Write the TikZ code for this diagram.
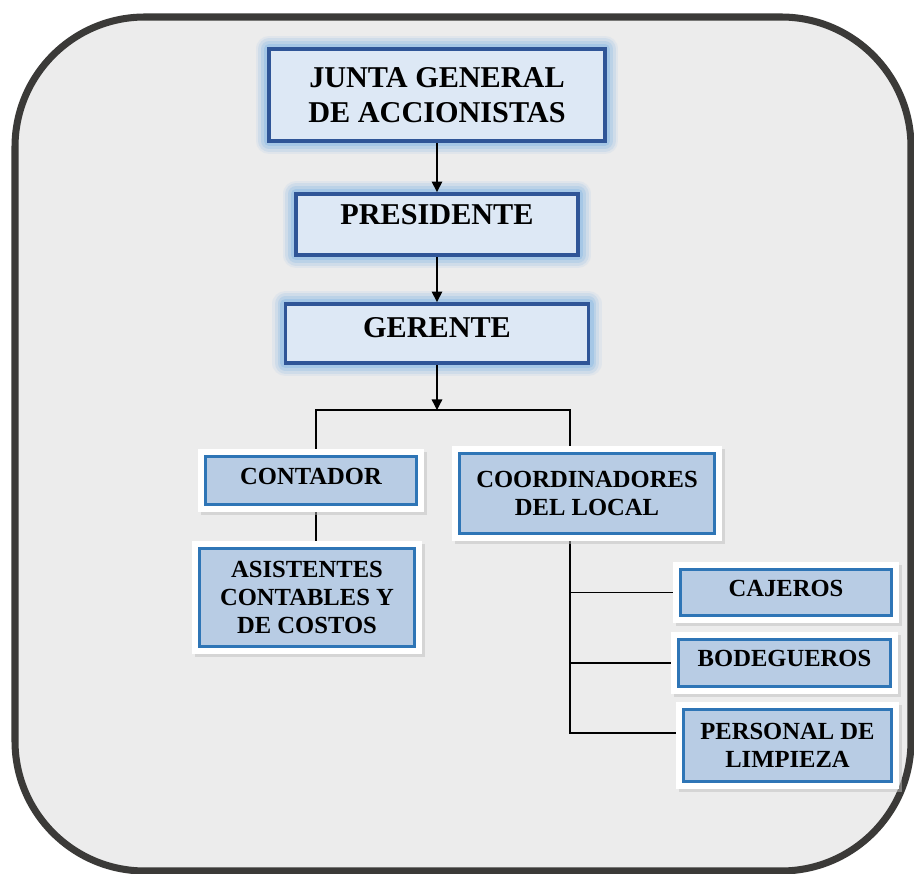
\documentclass[tikz,border=0pt]{standalone}
\usepackage{fontspec}
\setmainfont{Liberation Serif}
\usetikzlibrary{positioning,shadows,arrows.meta,backgrounds}
\definecolor{frame_gray}{HTML}{3B3A38}
\definecolor{back_gray}{HTML}{ECECEC}
\definecolor{top_fill}{HTML}{DDE8F5}
\definecolor{top_line}{HTML}{2F5597}
\definecolor{glow_blue}{HTML}{9DC3E6}
\definecolor{low_fill}{HTML}{B8CCE4}
\definecolor{low_line}{HTML}{2E75B6}

\begin{document}
\begin{tikzpicture}[x = .02cm, y = -.02cm,
  topbox/.style = {draw = top_line, line width = 2.2pt, fill = top_fill, align = center,
    font = \bfseries\fontsize{17.2}{19.8}\selectfont,
    preaction = {draw = glow_blue, line width = 15pt, line join = round, opacity = .15},
    preaction = {draw = glow_blue, line width = 12pt, line join = round, opacity = .25},
    preaction = {draw = glow_blue, line width = 9pt, line join = round, opacity = .4},
    preaction = {draw = glow_blue, line width = 6pt, line join = round, opacity = .7}},
  lowbox/.style = {draw = low_line, line width = 1.7pt, fill = low_fill, align = center,
    font = \bfseries\fontsize{14}{15.9}\selectfont,
    drop shadow = {shadow xshift = 1.5pt, shadow yshift = -1.5pt, draw = black!25, fill = black!25, line width = 8.5pt},
    preaction = {draw = white, line width = 8.5pt}},
  link/.style = {line width = .8pt},
  arrow_link/.style = {line width = .8pt, -{Triangle[width = 6pt, length = 6pt]}}]
\useasboundingbox (0,0) rectangle (914,874);

% top of the chart
\node[topbox, minimum width = 6.72cm, minimum height = 1.84cm] (junta) at (437,95) {JUNTA GENERAL\\DE ACCIONISTAS};
\node[topbox, minimum width = 5.64cm, minimum height = 1.22cm, text depth = .38cm] (presidente) at (437,224.5) {PRESIDENTE};
\node[topbox, minimum width = 6.06cm, minimum height = 1.18cm, text depth = .26cm] (gerente) at (437,333.5) {GERENTE};

% second level
\node[lowbox, minimum width = 4.22cm, minimum height = .96cm, text depth = .18cm] (contador) at (311,480.5) {CONTADOR};
\node[lowbox, minimum width = 4.3cm, minimum height = 1.96cm] (asistentes) at (307,597.5) {ASISTENTES\\CONTABLES Y\\DE COSTOS};
\node[lowbox, minimum width = 5.1cm, minimum height = 1.6cm] (coordinadores) at (587,493.5) {COORDINADORES\\DEL LOCAL};

% staff of the local
\node[lowbox, minimum width = 4.22cm, minimum height = .92cm, text depth = .18cm] (cajeros) at (786,592.5) {CAJEROS};
\node[lowbox, minimum width = 4.24cm, minimum height = .94cm, text depth = .2cm] (bodegueros) at (784.5,663) {BODEGUEROS};
\node[lowbox, minimum width = 4.16cm, minimum height = 1.44cm] (personal) at (787.5,745.5) {PERSONAL DE\\LIMPIEZA};

\coordinate (bar_mid) at (437,410);
\coordinate (bar_left) at (316,410);
\coordinate (bar_right) at (570,410);

\draw[arrow_link] (junta.south) -- (presidente.north);
\draw[arrow_link] (presidente.south) -- (gerente.north);
\draw[arrow_link] (gerente.south) -- (bar_mid);

\begin{scope}[on background layer]
\draw[frame_gray, line width = 4pt, fill = back_gray, rounded corners = 2.6cm] (15,17) rectangle (911,871);
\draw[link] (contador.north -| bar_left) -- (bar_left) -- (bar_right) -- (coordinadores.north -| bar_right);
\draw[link] (contador.south -| bar_left) -- (asistentes.north -| bar_left);
\draw[link] (coordinadores.south -| bar_right) |- ([yshift = .25cm]personal.west);
\draw[link] (bar_right |- cajeros.west) -- (cajeros.west);
\draw[link] (bar_right |- bodegueros.west) -- (bodegueros.west);
\end{scope}
\end{tikzpicture}
\end{document}
